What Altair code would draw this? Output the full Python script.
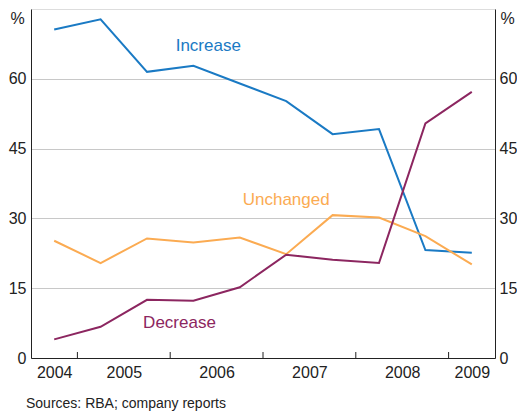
import altair as alt
import pandas as pd

# ---- data ----
periods = [2004.75, 2005.25, 2005.75, 2006.25, 2006.75, 2007.25, 2007.75, 2008.25, 2008.75, 2009.25]
increase = [70.6, 72.8, 61.5, 62.8, 59.0, 55.2, 48.1, 49.2, 23.2, 22.6]
unchanged = [25.2, 20.4, 25.7, 24.8, 25.9, 22.3, 30.7, 30.2, 26.2, 20.1]
decrease = [4.0, 6.7, 12.5, 12.3, 15.2, 22.2, 21.1, 20.4, 50.4, 57.2]

series_names = ["Increase", "Unchanged", "Decrease"]
series_colors = ["#1a7ac4", "#fbab52", "#8c2660"]

year_label_pos = [2004.75, 2005.5, 2006.5, 2007.5, 2008.5, 2009.25]
year_boundaries = [2005, 2006, 2007, 2008, 2009]
y_ticks = [0, 15, 30, 45, 60]

label_x = [2006.41, 2007.25, 2006.1]
label_y = [67.1, 34.0, 7.6]

source_text = ["Sources: RBA; company reports"]

# ---- tables ----
rows = []
for name, vals in zip(series_names, [increase, unchanged, decrease]):
    for p, v in zip(periods, vals):
        rows.append({"period": p, "value": v, "series": name})
df = pd.DataFrame(rows)
labels_df = pd.DataFrame({"series": series_names, "lx": label_x, "ly": label_y})
bounds_df = pd.DataFrame({"b": year_boundaries})
src_df = pd.DataFrame({"t": source_text})

W, H = 464, 349
FONT = "Liberation Sans"
TXT = "#222222"

xscale = alt.Scale(domain=[2004.5, 2009.5], nice=False, zero=False)
yscale = alt.Scale(domain=[0, 75], nice=False)
cscale = alt.Scale(domain=series_names, range=series_colors)

x_axis = alt.Axis(values=year_label_pos, labelExpr="floor(datum.value)", ticks=False, tickSize=0,
                  grid=False, title=None, labelFontSize=16, labelPadding=6, labelColor=TXT,
                  labelOverlap=False, labelFlush=False, domainColor=TXT, labelFont=FONT)
y_left = alt.Axis(orient="left", values=y_ticks, ticks=False, tickSize=0, grid=True,
                  gridColor="#c8c8c8", gridWidth=1, labelFontSize=16, labelPadding=5,
                  labelColor=TXT, domainColor=TXT, labelFont=FONT,
                  title="%", titleAngle=0, titleAlign="center", titleBaseline="middle",
                  titleX=-14, titleY=9, titleFontSize=16, titleFontWeight="normal",
                  titleColor=TXT, titleFont=FONT)
y_right = alt.Axis(orient="right", values=y_ticks, ticks=False, tickSize=0, grid=False,
                   labelFontSize=16, labelPadding=4, labelColor=TXT, domainColor=TXT,
                   labelFont=FONT, labelAlign="left",
                   title="%", titleAngle=0, titleAlign="left", titleBaseline="middle",
                   titleX=5, titleY=9, titleFontSize=16, titleFontWeight="normal",
                   titleColor=TXT, titleFont=FONT)

lines = alt.Chart(df).mark_line(strokeWidth=2).encode(
    x=alt.X("period:Q", scale=xscale, axis=x_axis),
    y=alt.Y("value:Q", scale=yscale, axis=y_left),
    color=alt.Color("series:N", scale=cscale, legend=None),
)

labels = alt.Chart(labels_df).mark_text(fontSize=17, font=FONT, align="center", baseline="middle").encode(
    x=alt.X("lx:Q", scale=xscale, axis=x_axis),
    y=alt.Y("ly:Q", scale=yscale, axis=y_left),
    text="series:N",
    color=alt.Color("series:N", scale=cscale, legend=None),
)

ticks = alt.Chart(bounds_df).mark_rule(color=TXT, strokeWidth=1).encode(
    x=alt.X("b:Q", scale=xscale, axis=x_axis),
    y=alt.value(H - 6),
    y2=alt.value(H),
)

source = alt.Chart(src_df).mark_text(fontSize=14, font=FONT, align="left", baseline="middle", color=TXT).encode(
    x=alt.value(-5),
    y=alt.value(395),
    text="t:N",
)

inner = alt.layer(lines, labels, ticks, source)

right = alt.Chart(df).mark_point(opacity=0).encode(
    x=alt.X("period:Q", scale=xscale, axis=x_axis),
    y=alt.Y("value:Q", scale=yscale, axis=y_right),
)

chart = alt.layer(inner, right).resolve_axis(y="independent").properties(
    width=W, height=H,
    autosize=alt.AutoSizeParams(type="none"),
    padding={"left": 23, "top": 1, "right": 22, "bottom": 54},
).configure_view(stroke=TXT, strokeWidth=1).configure(background="white")

chart.save("out.html", embed_options={"renderer": "svg", "actions": False})
